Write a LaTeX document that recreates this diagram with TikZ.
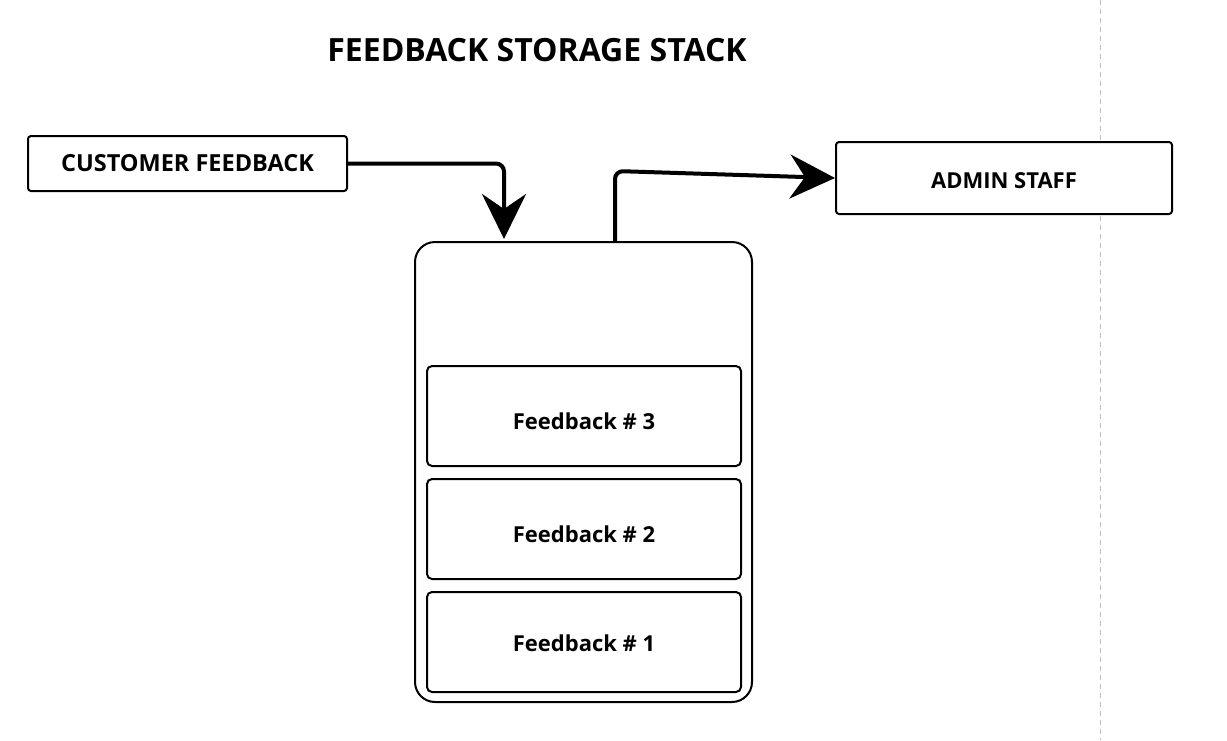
\documentclass[tikz,border=0pt]{standalone}
\usepackage{fontspec}
\setmainfont{Open Sans}
\usetikzlibrary{arrows.meta}
\begin{document}
\begin{tikzpicture}[x=1pt,y=-1pt,
  box/.style={draw,line width=2pt,rounded corners=3pt,inner sep=0pt},
  lbl/.style={font=\bfseries\fontsize{22}{24}\selectfont},
  flow/.style={line width=4pt,rounded corners=8pt,-{Stealth[length=45pt,width=44pt,inset=15pt]}}]
\useasboundingbox (0,0) rectangle (1227,740);
\draw[gray!50,line width=1pt,dash pattern=on 5pt off 4pt] (1100,0) -- (1100,740);
\node[font=\bfseries\fontsize{32}{36}\selectfont] (title) at (537,50) {FEEDBACK STORAGE STACK};
\node[box,minimum width=319pt,minimum height=55pt,fill=white] (cust) at (187.5,163.5) {};
\node[lbl,font=\bfseries\fontsize{23.5}{26}\selectfont] at (cust.center) {CUSTOMER FEEDBACK};
\node[box,minimum width=336pt,minimum height=72pt,fill=white] (admin) at (1004,178) {};
\node[lbl] at (1004,181) {ADMIN STAFF};
\node[box,rounded corners=20pt,minimum width=337pt,minimum height=460pt] (stack) at (583.5,472) {};
\node[box,rounded corners=5pt,minimum width=314pt,minimum height=100pt] (f3) at (584,416) {};
\node[lbl] at (584,421) {Feedback \# 3};
\node[box,rounded corners=5pt,minimum width=314pt,minimum height=100pt] (f2) at (584,529) {};
\node[lbl] at (584,534) {Feedback \# 2};
\node[box,rounded corners=5pt,minimum width=314pt,minimum height=100pt] (f1) at (584,642) {};
\node[lbl] at (584,643) {Feedback \# 1};
\coordinate (in) at (504,239);
\coordinate (out) at (615,242);
\draw[flow] (cust.east) -- (504,163.5) -- (in);
\draw[flow] (out) -- (615,171) -- (admin.west);
\end{tikzpicture}
\end{document}
